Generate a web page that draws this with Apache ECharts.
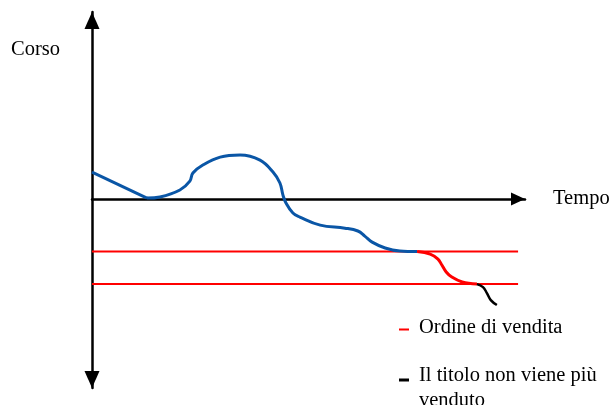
<!DOCTYPE html>
<html><head><meta charset="utf-8">
<script src="https://cdn.jsdelivr.net/npm/echarts@6/dist/echarts.min.js"></script>
<style>html,body{margin:0;padding:0;background:#fff}#c{width:613px;height:405px}</style>
</head><body><div id="c"></div>
<script>
// Schematic values (time 0..100, price -100..99)
const xAxisName = 'Tempo';
const yAxisName = 'Corso';
const blueDrop = [[0, 14.3], [12.7, 0.5]];
const blueCurve = [[12.7, 0.5], [15.7, 1.1], [20.3, 4.8], [22.6, 9.5], [23.3, 13.8], [25.6, 18.0], [29.6, 22.2], [34.2, 23.3], [38.8, 20.6], [41.8, 14.3], [43.4, 8.5], [44.1, 2.1], [44.8, -2.1], [46.4, -7.4], [48.0, -9.5], [52.7, -13.8], [58.4, -15.4], [61.4, -16.9], [63.0, -19.6], [64.7, -22.8], [67.7, -25.9], [71.1, -27.5], [75.1, -27.8]];
const redCurve = [[75.1, -27.8], [78.1, -29.1], [79.9, -31.8], [80.8, -34.9], [81.8, -38.6], [83.1, -41.3], [85.5, -43.9], [88.9, -45.0]];
const blackCurve = [[88.9, -45.0], [90.3, -46.6], [91.2, -49.8], [92.1, -53.5], [93.5, -56.1]];
const sellLevels = [-27.8, -45.0];
const levelEnd = 98.4;
const legendNames = ['Ordine di vendita', 'Il titolo non viene più venduto'];

const FONT = "'Liberation Serif', 'DejaVu Serif', serif";
const FS = 20.5;
const BLUE = '#0a56a6', RED = '#ff0000', BLACK = '#000000';

const chart = echarts.init(document.getElementById('c'), null, {renderer: 'canvas'});

const levelSeries = sellLevels.map(v => ({
  type: 'line', name: legendNames[0], data: [[0, v], [levelEnd, v]],
  showSymbol: false, symbol: 'none', z: 2,
  itemStyle: {color: RED}, lineStyle: {color: RED, width: 2}
}));

chart.setOption({
  animation: false,
  backgroundColor: '#fff',
  grid: {left: 92, right: 88, top: 12, bottom: 17},
  xAxis: {
    type: 'value', min: 0, max: 100,
    name: xAxisName, nameLocation: 'end', nameGap: 28,
    nameTextStyle: {fontFamily: FONT, fontSize: FS, color: '#000', padding: [0, 0, 12, 0]},
    axisLine: {show: true, onZero: true, lineStyle: {color: '#000', width: 2.5},
      symbol: ['none', 'triangle'], symbolSize: [13, 14], symbolOffset: [0, -7]},
    axisTick: {show: false}, axisLabel: {show: false}, splitLine: {show: false}
  },
  yAxis: {
    type: 'value', min: -100, max: 99,
    name: yAxisName, nameLocation: 'end', nameGap: -38,
    nameTextStyle: {fontFamily: FONT, fontSize: FS, color: '#000', align: 'right', verticalAlign: 'middle', padding: [0, 32, 0, 0]},
    axisLine: {show: true, onZero: false, lineStyle: {color: '#000', width: 2.5},
      symbol: ['triangle', 'triangle'], symbolSize: [15, 17], symbolOffset: [8.5, -8.5]},
    axisTick: {show: false}, axisLabel: {show: false}, splitLine: {show: false}
  },
  legend: [
    {
      data: [{name: legendNames[0], icon: 'path://M0,4H10V6H0Z M15,0L15,7'}],
      left: 399, top: 316.5, padding: 0, orient: 'vertical',
      itemWidth: 15, itemHeight: 7,
      itemStyle: {borderWidth: 0},
      textStyle: {fontFamily: FONT, fontSize: FS, color: '#000', lineHeight: 23}
    },
    {
      data: [{name: legendNames[1], icon: 'path://M0,3.5H10V6.5H0Z M15,0L15,26'}],
      left: 399, top: 363, padding: 0, orient: 'vertical',
      itemWidth: 15, itemHeight: 26,
      itemStyle: {borderWidth: 0},
      formatter: n => n.replace(' venduto', '\nvenduto'),
      textStyle: {fontFamily: FONT, fontSize: FS, color: '#000', lineHeight: 25}
    }
  ],
  series: [
    ...levelSeries,
    {type: 'line', name: 'blue-drop', data: blueDrop, symbol: 'none', z: 3,
     itemStyle: {color: BLUE}, lineStyle: {color: BLUE, width: 3}},
    {type: 'line', name: 'blue', data: blueCurve, symbol: 'none', smooth: 0.4, z: 3,
     itemStyle: {color: BLUE}, lineStyle: {color: BLUE, width: 3}},
    {type: 'line', name: legendNames[0], data: redCurve, symbol: 'none', smooth: 0.4, z: 3,
     itemStyle: {color: RED}, lineStyle: {color: RED, width: 3}},
    {type: 'line', name: legendNames[1], data: blackCurve, symbol: 'none', smooth: 0.4, z: 3,
     itemStyle: {color: BLACK}, lineStyle: {color: BLACK, width: 2.5}}
  ]
});
</script></body></html>
